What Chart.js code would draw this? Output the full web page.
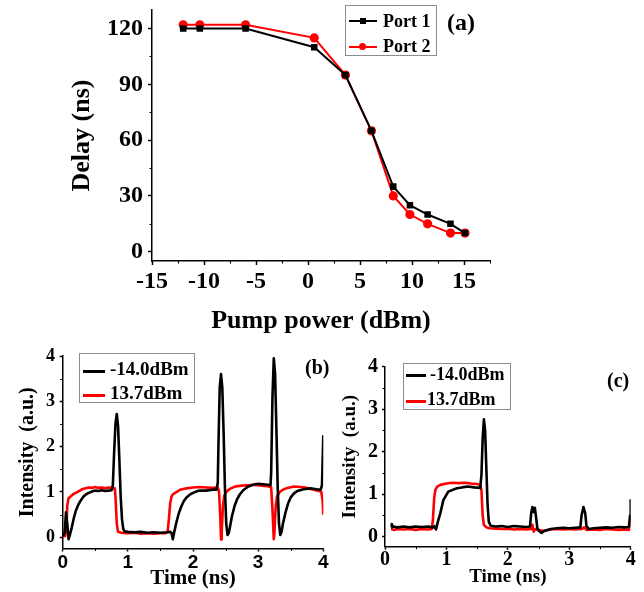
<!DOCTYPE html>
<html>
<head>
<meta charset="utf-8">
<script src="https://cdn.jsdelivr.net/npm/chart.js@4.4.0/dist/chart.umd.min.js"></script>
<style>
  body { margin: 0; background: #fff; }
  #wrap { position: relative; width: 644px; height: 592px; overflow: hidden; font-family: "Liberation Serif", serif; font-weight: bold; }
  canvas { position: absolute; }
  .box { position: absolute; border: 1px solid #8c8c8c; background: #fff; box-sizing: border-box; }
  .t { position: absolute; white-space: nowrap; line-height: 1; color: #000; }
  .ln { position: absolute; height: 2px; }
  .sq { position: absolute; width: 6px; height: 6px; background: #000; }
  .dot { position: absolute; width: 7px; height: 7px; border-radius: 50%; background: #f00; }
</style>
</head>
<body>
<div id="wrap">
  <canvas id="ca" width="644" height="340" style="left:0;top:0"></canvas>
  <canvas id="cb" width="330" height="252" style="left:0;top:340px"></canvas>
  <canvas id="cc" width="314" height="252" style="left:330px;top:340px"></canvas>

  <!-- legend (a) -->
  <div class="box" style="left:345px;top:5px;width:92px;height:51px"></div>
  <div class="ln" style="left:349px;top:20px;width:28px;background:#000"></div>
  <div class="sq" style="left:360px;top:18px"></div>
  <div class="t" style="left:383px;top:12px;font-size:18px">Port 1</div>
  <div class="ln" style="left:349px;top:46px;width:28px;background:#f00"></div>
  <div class="dot" style="left:359px;top:43px"></div>
  <div class="t" style="left:383px;top:37px;font-size:18px">Port 2</div>
  <div class="t" style="left:447px;top:10px;font-size:24px">(a)</div>

  <!-- legend (b) -->
  <div class="box" style="left:79px;top:353px;width:116px;height:50px"></div>
  <div class="ln" style="left:83px;top:370px;width:22px;height:2.5px;background:#000"></div>
  <div class="t" style="left:110px;top:359px;font-size:19px">-14.0dBm</div>
  <div class="ln" style="left:83px;top:394px;width:22px;height:2.5px;background:#f00"></div>
  <div class="t" style="left:110px;top:383px;font-size:19px">13.7dBm</div>
  <div class="t" style="left:305px;top:357px;font-size:20px">(b)</div>

  <!-- legend (c) -->
  <div class="box" style="left:403px;top:363px;width:108px;height:47px"></div>
  <div class="ln" style="left:406px;top:374px;width:20px;height:2.5px;background:#000"></div>
  <div class="t" style="left:430px;top:365px;font-size:18px">-14.0dBm</div>
  <div class="ln" style="left:406px;top:400px;width:20px;height:2.5px;background:#f00"></div>
  <div class="t" style="left:427px;top:390px;font-size:18px">13.7dBm</div>
  <div class="t" style="left:607px;top:370px;font-size:20px">(c)</div>
</div>

<script>
// (a) delay vs pump power
const pumpPower = [-12, -10.4, -6, 0.6, 3.6, 6.1, 8.2, 9.8, 11.5, 13.7, 15.1];
const port1Delay = [120, 120, 120, 110, 95, 65, 35, 25, 20, 15, 10];
const port2Delay = [122, 122, 122, 115, 95, 65, 30, 20, 15, 10, 10];
const xTicksA = [-15, -10, -5, 0, 5, 10, 15];
const yTicksA = [0, 30, 60, 90, 120];

// (b) traces
const bBlackT = [0.00, 0.03, 0.05, 0.07, 0.09, 0.11, 0.14, 0.17, 0.20, 0.24, 0.28, 0.32, 0.36, 0.40, 0.45, 0.50, 0.55, 0.60, 0.65, 0.70, 0.75, 0.77, 0.79, 0.81, 0.83, 0.85, 0.87, 0.89, 0.91, 0.93, 0.95, 1.00, 1.10, 1.20, 1.30, 1.40, 1.50, 1.60, 1.65, 1.67, 1.69, 1.71, 1.74, 1.78, 1.82, 1.86, 1.90, 1.95, 2.00, 2.05, 2.10, 2.20, 2.30, 2.36, 2.38, 2.39, 2.41, 2.43, 2.45, 2.47, 2.49, 2.51, 2.53, 2.55, 2.57, 2.60, 2.64, 2.68, 2.72, 2.78, 2.85, 2.92, 3.00, 3.08, 3.15, 3.19, 3.20, 3.22, 3.24, 3.26, 3.28, 3.30, 3.32, 3.34, 3.36, 3.38, 3.42, 3.46, 3.50, 3.55, 3.60, 3.70, 3.80, 3.90, 3.96, 3.98, 3.99, 4.00];
const bBlackV = [0.03, 0.10, 0.55, 0.30, -0.04, 0.05, 0.22, 0.42, 0.58, 0.72, 0.82, 0.90, 0.95, 0.98, 1.01, 1.03, 1.02, 1.04, 1.02, 1.03, 1.04, 1.15, 1.90, 2.50, 2.72, 2.45, 1.70, 0.90, 0.40, 0.18, 0.13, 0.12, 0.11, 0.12, 0.10, 0.11, 0.10, 0.11, 0.12, 0.10, -0.04, 0.10, 0.30, 0.52, 0.68, 0.80, 0.88, 0.94, 0.98, 1.01, 1.03, 1.03, 1.05, 1.05, 1.20, 2.00, 3.30, 3.60, 3.30, 2.30, 1.10, 0.30, 0.05, 0.10, 0.25, 0.48, 0.70, 0.85, 0.95, 1.05, 1.12, 1.16, 1.18, 1.17, 1.16, 1.15, 1.45, 3.10, 3.95, 3.60, 2.40, 1.10, 0.30, 0.05, 0.12, 0.30, 0.55, 0.75, 0.88, 0.97, 1.02, 1.06, 1.08, 1.06, 1.05, 1.15, 1.70, 2.25];
const bRedT = [0.00, 0.04, 0.06, 0.07, 0.09, 0.12, 0.16, 0.20, 0.25, 0.30, 0.35, 0.40, 0.45, 0.50, 0.55, 0.60, 0.65, 0.70, 0.76, 0.80, 0.81, 0.83, 0.85, 0.90, 1.00, 1.10, 1.20, 1.30, 1.40, 1.50, 1.58, 1.61, 1.63, 1.65, 1.67, 1.70, 1.75, 1.80, 1.90, 2.00, 2.10, 2.20, 2.30, 2.38, 2.40, 2.42, 2.43, 2.44, 2.46, 2.48, 2.52, 2.58, 2.65, 2.75, 2.85, 2.95, 3.05, 3.15, 3.20, 3.22, 3.24, 3.25, 3.27, 3.29, 3.33, 3.38, 3.45, 3.55, 3.65, 3.75, 3.85, 3.92, 3.97, 3.99, 4.00];
const bRedV = [0.02, 0.03, 0.30, 0.70, 0.86, 0.90, 0.95, 0.98, 1.02, 1.06, 1.08, 1.10, 1.09, 1.11, 1.09, 1.10, 1.08, 1.10, 1.09, 1.08, 0.90, 0.30, 0.12, 0.10, 0.09, 0.10, 0.08, 0.09, 0.08, 0.09, 0.09, 0.12, 0.40, 0.75, 0.90, 0.96, 1.00, 1.05, 1.08, 1.10, 1.11, 1.10, 1.09, 1.10, 1.00, 0.40, -0.05, 0.10, 0.70, 0.92, 1.02, 1.08, 1.12, 1.14, 1.15, 1.16, 1.14, 1.13, 1.10, 0.60, -0.04, 0.10, 0.70, 0.90, 1.00, 1.05, 1.09, 1.12, 1.11, 1.09, 1.05, 1.03, 1.00, 0.80, 0.50];

// (c) traces
const cBlackT = [0.10, 0.11, 0.13, 0.20, 0.30, 0.40, 0.50, 0.60, 0.70, 0.78, 0.80, 0.83, 0.86, 0.90, 0.95, 1.03, 1.17, 1.25, 1.35, 1.45, 1.55, 1.57, 1.59, 1.61, 1.63, 1.65, 1.67, 1.69, 1.72, 1.80, 1.90, 2.00, 2.10, 2.20, 2.30, 2.36, 2.38, 2.40, 2.42, 2.44, 2.46, 2.48, 2.52, 2.55, 2.60, 2.70, 2.80, 2.90, 3.00, 3.10, 3.18, 3.20, 3.23, 3.26, 3.28, 3.32, 3.40, 3.50, 3.60, 3.70, 3.80, 3.90, 3.97, 3.99, 4.00];
const cBlackV = [0.22, 0.30, 0.24, 0.22, 0.24, 0.22, 0.24, 0.23, 0.24, 0.22, 0.25, 0.17, 0.35, 0.55, 0.86, 1.06, 1.14, 1.16, 1.18, 1.16, 1.15, 1.45, 2.30, 2.76, 2.50, 1.60, 0.75, 0.35, 0.26, 0.24, 0.25, 0.23, 0.25, 0.24, 0.23, 0.24, 0.55, 0.70, 0.58, 0.68, 0.45, 0.20, 0.12, 0.09, 0.14, 0.18, 0.20, 0.21, 0.20, 0.21, 0.22, 0.50, 0.70, 0.55, 0.25, 0.18, 0.20, 0.21, 0.22, 0.21, 0.23, 0.22, 0.23, 0.50, 0.88];
const cRedT = [0.10, 0.15, 0.20, 0.30, 0.40, 0.50, 0.60, 0.70, 0.76, 0.78, 0.80, 0.82, 0.85, 0.90, 1.00, 1.10, 1.20, 1.30, 1.40, 1.50, 1.55, 1.57, 1.59, 1.61, 1.65, 1.70, 1.80, 1.90, 2.00, 2.10, 2.20, 2.30, 2.38, 2.40, 2.42, 2.45, 2.50, 2.60, 2.70, 2.80, 2.90, 3.00, 3.10, 3.20, 3.24, 3.28, 3.40, 3.50, 3.60, 3.70, 3.80, 3.90, 3.97, 3.99, 4.00];
const cRedV = [0.18, 0.16, 0.18, 0.17, 0.18, 0.16, 0.18, 0.17, 0.18, 0.40, 0.90, 1.10, 1.18, 1.22, 1.25, 1.27, 1.26, 1.27, 1.25, 1.24, 1.22, 1.10, 0.50, 0.28, 0.22, 0.20, 0.19, 0.18, 0.19, 0.17, 0.18, 0.17, 0.18, 0.28, 0.12, 0.18, 0.15, 0.14, 0.17, 0.18, 0.17, 0.18, 0.17, 0.18, 0.22, 0.16, 0.17, 0.16, 0.18, 0.17, 0.16, 0.17, 0.16, 0.30, 0.50];
const xTicksBC = [0, 1, 2, 3, 4];
const yTicksBC = [0, 1, 2, 3, 4];

const pts = (xs, ys) => xs.map((x, i) => ({ x: x, y: ys[i] }));

Chart.defaults.font.family = '"Liberation Serif", serif';
Chart.defaults.font.weight = 'bold';
Chart.defaults.color = '#000';

// small outward minor ticks between the major ones
const minorTicks = {
  id: 'minorTicks',
  afterDraw(chart, args, opts) {
    const ctx = chart.ctx;
    const xs = chart.scales.x, ys = chart.scales.y;
    ctx.save();
    ctx.strokeStyle = '#000';
    ctx.lineWidth = 1;
    ctx.beginPath();
    for (let v = opts.x0; v <= xs.max + 1e-9; v += opts.xStep) {
      const p = Math.round(xs.getPixelForValue(v)) + 0.5;
      ctx.moveTo(p, xs.top);
      ctx.lineTo(p, xs.top + opts.len);
    }
    for (let v = opts.y0; v <= ys.max + 1e-9; v += opts.yStep) {
      const p = Math.round(ys.getPixelForValue(v)) + 0.5;
      ctx.moveTo(ys.right, p);
      ctx.lineTo(ys.right - opts.len, p);
    }
    ctx.stroke();
    ctx.restore();
  }
};

function axis(cfg) {
  return {
    type: 'linear',
    min: cfg.min,
    max: cfg.max,
    border: { display: true, color: '#000', width: 1.5 },
    grid: { drawOnChartArea: false, drawTicks: true, tickLength: cfg.tl, tickColor: '#000', tickWidth: 1.5 },
    ticks: {
      autoSkip: false, maxRotation: 0, padding: cfg.pad,
      font: cfg.font, color: '#000'
    },
    title: { display: true, text: cfg.title, font: cfg.titleFont, padding: cfg.titlePad, color: '#000' },
    afterBuildTicks: s => { s.ticks = cfg.ticks.map(v => ({ value: v })); },
    afterFit: s => {
      if (cfg.width !== undefined) { s.width = cfg.width; s.paddingTop = 0; s.paddingBottom = 0; }
      if (cfg.height !== undefined) { s.height = cfg.height; s.paddingLeft = 0; s.paddingRight = 0; }
    }
  };
}

const common = {
  responsive: false,
  animation: false,
  devicePixelRatio: 1,
  plugins: { legend: { display: false }, tooltip: { enabled: false } }
};

new Chart(document.getElementById('ca'), {
  type: 'scatter',
  data: {
    datasets: [
      { data: pts(pumpPower, port1Delay), showLine: true, borderColor: '#000', backgroundColor: '#000', borderWidth: 2, pointStyle: 'rect', pointRadius: 3.2 },
      { data: pts(pumpPower, port2Delay), showLine: true, borderColor: '#f00', backgroundColor: '#f00', borderWidth: 2, pointStyle: 'circle', pointRadius: 3.6 }
    ]
  },
  options: Object.assign({}, common, {
    layout: { padding: { left: 0, top: 10, right: 154, bottom: 0 } },
    plugins: Object.assign({}, common.plugins, { minorTicks: { x0: -15, xStep: 2.5, y0: 15, yStep: 30, len: 2.5 } }),
    scales: {
      x: axis({ min: -15, max: 17.5, ticks: xTicksA, tl: 4, pad: 2, font: { size: 24 }, title: 'Pump power (dBm)', titleFont: { size: 26 }, titlePad: { top: 0, bottom: 3 }, height: 79 }),
      y: axis({ min: -5, max: 130, ticks: yTicksA, tl: 4, pad: 5, font: { size: 24 }, title: 'Delay (ns)', titleFont: { size: 26 }, titlePad: { top: 67, bottom: 0 }, width: 152 })
    }
  }),
  plugins: [minorTicks]
});

function traceChart(id, black, red, geo) {
  new Chart(document.getElementById(id), {
    type: 'scatter',
    data: {
      datasets: [
        { data: black, showLine: true, borderColor: '#000', borderWidth: 2.6, pointRadius: 0, tension: 0, borderJoinStyle: 'round' },
        { data: red, showLine: true, borderColor: '#f00', borderWidth: 2.6, pointRadius: 0, tension: 0, borderJoinStyle: 'round' }
      ]
    },
    options: Object.assign({}, common, {
      layout: { padding: { left: 0, top: geo.top, right: geo.right, bottom: 0 } },
      plugins: Object.assign({}, common.plugins, { minorTicks: { x0: 0.5, xStep: 1, y0: 0.5, yStep: 1, len: 2.5 } }),
      scales: {
        x: axis({ min: 0, max: 4, ticks: xTicksBC, tl: 3, pad: geo.xPad, font: geo.xFont, title: 'Time (ns)', titleFont: geo.xTitleFont, titlePad: { top: 0, bottom: geo.xTitlePad }, height: geo.height }),
        y: axis({ min: geo.ymin, max: 4, ticks: yTicksBC, tl: 3, pad: geo.yPad, font: geo.yFont, title: 'Intensity  (a.u.)', titleFont: geo.yTitleFont, titlePad: { top: geo.yTitlePad, bottom: 0 }, width: geo.width })
      }
    }),
    plugins: [minorTicks]
  });
}

traceChart('cb', pts(bBlackT, bBlackV), pts(bRedT, bRedV), {
  top: 16, right: 6.7, width: 62.7, height: 43.5, ymin: -0.247,
  xPad: 0, xFont: { size: 19, family: '"Liberation Sans", sans-serif', lineHeight: 1.2 },
  yPad: 4.7, yFont: { size: 18 },
  xTitleFont: { size: 21 }, xTitlePad: 0.4,
  yTitleFont: { size: 20 }, yTitlePad: 16
});

traceChart('cc', pts(cBlackT, cBlackV), pts(cRedT, cRedV), {
  top: 26.7, right: 13.3, width: 55, height: 45.3, ymin: -0.235,
  xPad: 0.3, xFont: { size: 20, lineHeight: 1 },
  yPad: 4, yFont: { size: 20 },
  xTitleFont: { size: 19 }, xTitlePad: 3.6,
  yTitleFont: { size: 19 }, yTitlePad: 8.6
});
</script>
</body>
</html>
